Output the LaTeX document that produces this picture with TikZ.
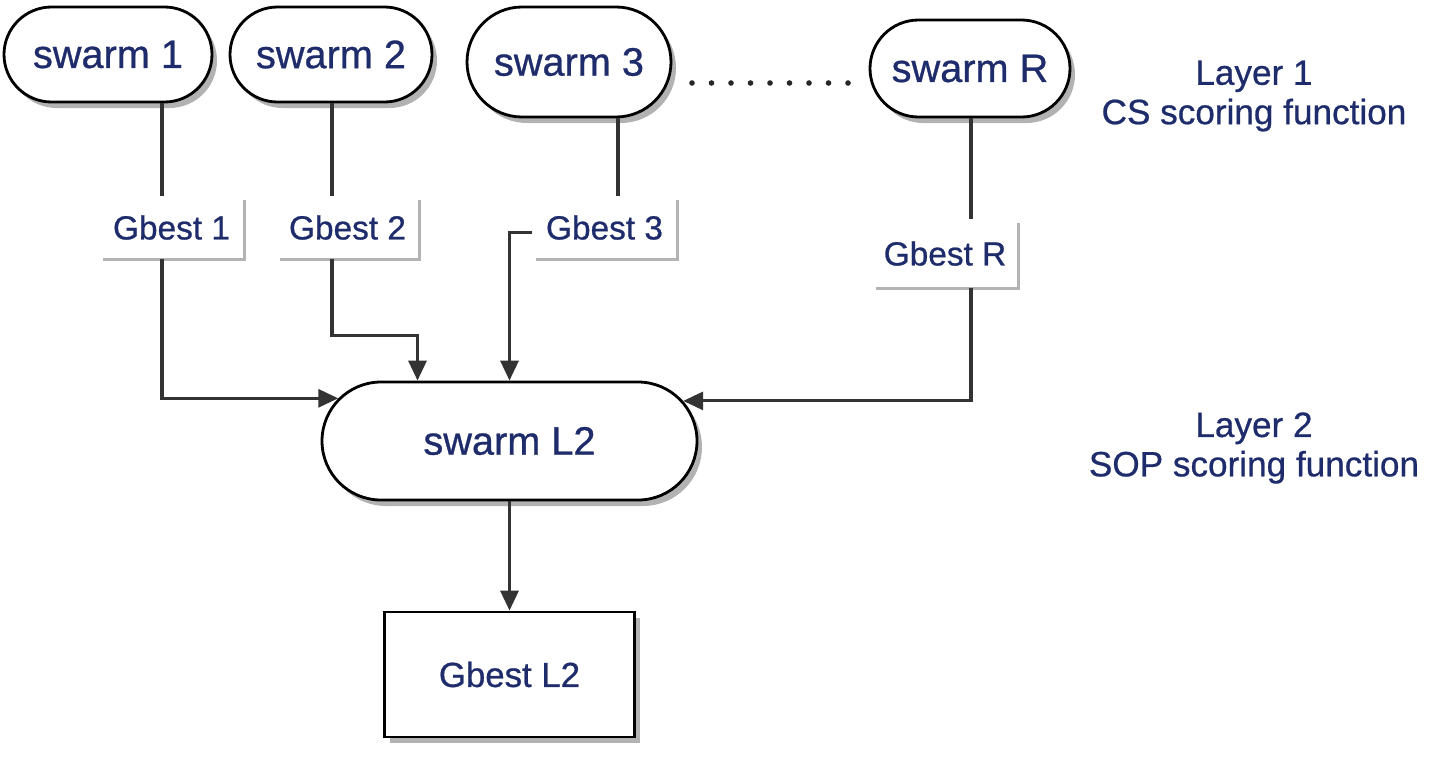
\documentclass[tikz,border=0pt]{standalone}
\usepackage{fontspec}
\setmainfont{Liberation Sans}[FakeBold=0.7]
\usepackage{xcolor}
\usetikzlibrary{shapes.misc,shadows,arrows.meta}

\definecolor{txtblue}{HTML}{1F2C6B}

\tikzset{
    swarmbox/.style={rounded rectangle, draw=black, line width=0.8pt, fill=white, inner sep=0pt,
        text=txtblue, font=\fontsize{11.3}{13}\selectfont,
        drop shadow={shadow xshift=0.5mm, shadow yshift=-0.6mm, opacity=0.3, fill=black}},
    gbestbox/.style={rectangle, fill=white, inner sep=0pt, text=txtblue,
        font=\fontsize{9.5}{11}\selectfont,
        drop shadow={shadow xshift=0.25mm, shadow yshift=-0.25mm, opacity=0.6, fill=gray}},
    resultbox/.style={rectangle, draw=black, line width=0.8pt, fill=white, inner sep=0pt,
        text=txtblue, font=\fontsize{9.9}{11}\selectfont,
        drop shadow={shadow xshift=0.5mm, shadow yshift=-0.6mm, opacity=0.3, fill=black}},
    layertext/.style={align=center, text=txtblue, font=\fontsize{10}{11.2}\selectfont},
    conn/.style={draw=black!80, line width=0.9pt},
    flowarrow/.style={conn, -{Triangle[length=2mm, width=1.8mm]}}
}

\begin{document}
\begin{tikzpicture}

    \useasboundingbox (0, 0) rectangle (14.29, -7.59);

    % Layer 1 swarms

    \node[swarmbox, minimum width=2.08cm, minimum height=0.95cm] (s1) at (1.08, -0.545) {swarm 1};
    \node[swarmbox, minimum width=2.02cm, minimum height=0.95cm] (s2) at (3.31, -0.545) {swarm 2};
    \node[swarmbox, minimum width=2.04cm, minimum height=1.10cm] (s3) at (5.69, -0.62) {swarm 3};
    \node[swarmbox, minimum width=2.00cm, minimum height=0.97cm] (sR) at (9.70, -0.685) {swarm R};

    \foreach \i in {0,...,8}
        \fill[black!85] (6.92 + \i*0.195, -0.83) circle (0.028);

    % best of each swarm

    \node[gbestbox, minimum width=1.43cm, minimum height=0.61cm] (g1) at (1.715, -2.275) {Gbest 1};
    \node[gbestbox, minimum width=1.41cm, minimum height=0.61cm] (g2) at (3.475, -2.275) {Gbest 2};
    \node[gbestbox, minimum width=1.43cm, minimum height=0.61cm] (g3) at (6.045, -2.275) {Gbest 3};
    \node[gbestbox, minimum width=1.44cm, minimum height=0.67cm] (gR) at (9.45, -2.535) {Gbest R};

    % Layer 2

    \node[swarmbox, minimum width=3.75cm, minimum height=1.18cm] (l2) at (5.095, -4.41) {swarm L2};
    \node[resultbox, minimum width=2.50cm, minimum height=1.25cm] (gL2) at (5.095, -6.745) {Gbest L2};

    \node[layertext] (lay1) at (12.54, -0.96) {Layer 1\\CS scoring function};
    \node[layertext] (lay2) at (12.54, -4.48) {Layer 2\\SOP scoring function};

    % line columns

    \coordinate (c1) at (1.62, 0);
    \coordinate (c2) at (3.32, 0);
    \coordinate (c3) at (6.18, 0);
    \coordinate (cR) at (9.71, 0);
    \coordinate (l2a) at ([xshift=-9.2mm]l2.north);

    \draw[conn] (s1.south -| c1) -- (g1.north -| c1);
    \draw[conn] (s2.south -| c2) -- (g2.north -| c2);
    \draw[conn] (s3.south -| c3) -- (g3.north -| c3);
    \draw[conn] (sR.south -| cR) -- (gR.north -| cR);

    \draw[flowarrow] (g1.south -| c1) |- (l2.166.5);
    \draw[flowarrow] (g2.south -| c2) -- ++(0, -0.77) -| (l2a);
    \draw[flowarrow] ([yshift=-0.5mm]g3.west) -| (l2.north);
    \draw[flowarrow] (gR.south -| cR) |- (l2.13.5);

    \draw[flowarrow] (l2.south) -- (gL2.north);

\end{tikzpicture}
\end{document}
